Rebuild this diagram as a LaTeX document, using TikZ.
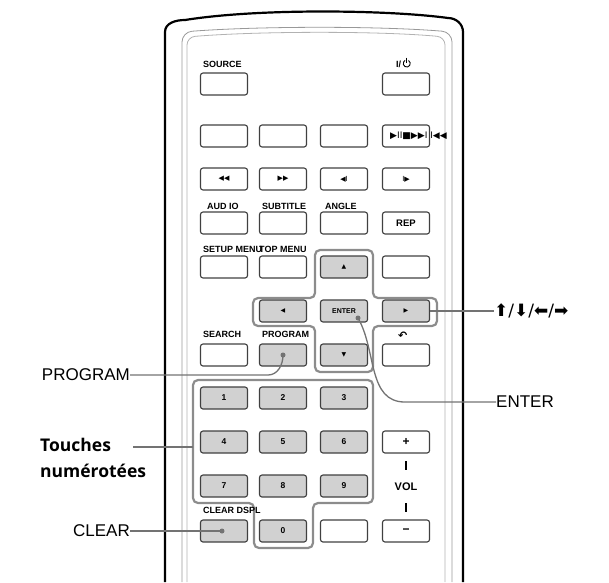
\documentclass[tikz,border=0pt]{standalone}
\usepackage{fontspec}
\setmainfont{Liberation Sans}
\newfontfamily\sym{DejaVu Sans}
\newfontfamily\bfont{Open Sans}
\begin{document}
\begin{tikzpicture}[x=1pt,y=-1pt,
  btn/.style={draw=black!75,line width=1.1pt,rounded corners=2.5pt,minimum width=47pt,minimum height=22pt,inner sep=0pt,font=\bfseries\fontsize{8.5}{9}\selectfont},
  gbtn/.style={btn,fill=black!18},
  lbl/.style={font=\bfseries\fontsize{9}{9}\selectfont,anchor=south west,inner sep=0pt},
  grp/.style={draw=black!45,line width=2.2pt,rounded corners=5pt},
  call/.style={draw=black!55,line width=1.3pt},
  ctext/.style={font=\fontsize{17}{18}\selectfont,inner sep=0pt},
  dot/.style={circle,fill=black!55,inner sep=0pt,minimum size=5pt}]
\useasboundingbox (0,0) rectangle (609,582);
% body
\draw[line width=2.2pt] (165,582) -- (165,32) to[out=90,in=180] (185,20) .. controls (260,8) and (390,10) .. (448,18) to[out=0,in=90] (463,32) -- (463,582);
\draw[black!40,line width=0.8pt,rounded corners=10pt] (182,582) -- (182,32) .. controls (260,26) and (380,26) .. (452,32) -- (452,582);
\draw[black!30,line width=0.8pt,rounded corners=8pt] (187,582) -- (187,37) .. controls (260,31) and (380,31) .. (445,37) -- (445,582);
% groups
\draw[grp] (315,250) -- (373,250) -- (373,298) -- (437,298) -- (437,326) -- (373,326) -- (373,372) -- (315,372) -- (315,326) -- (253,326) -- (253,298) -- (315,298) -- cycle;
\draw[grp] (193,380) -- (373,380) -- (373,503) -- (313,503) -- (313,548) -- (254,548) -- (254,503) -- (193,503) -- cycle;
% row 1
\node[lbl] (lsrc) at (203,68) {SOURCE};
\node[lbl] (lpow) at (396,68) {I/};
\draw[line width=0.9pt] (408.5,60.5) arc[start angle=60,end angle=-240,radius=3.5pt];
\draw[line width=0.9pt] (406.7,57.5) -- (406.7,63);
\node[btn] (bsrc) at (224,84) {};
\node[btn] (bpow) at (406,84) {};
% row 2
\node[btn] (b21) at (224,136) {};
\node[btn] (b22) at (283,136) {};
\node[btn] (b23) at (344,136) {};
\node[btn] (b24) at (406,136) {};
\node[font=\sym\fontsize{9}{9}\selectfont,anchor=west,inner sep=0pt] (play) at (390,136) {▶II■▶▶I I◀◀};
% row 3
\node[btn,font=\sym\fontsize{7}{7}\selectfont] (b31) at (224,179) {◀◀};
\node[btn,font=\sym\fontsize{7}{7}\selectfont] (b32) at (283,179) {▶▶};
\node[btn,font=\sym\fontsize{7}{7}\selectfont] (b33) at (344,179) {◀I};
\node[btn,font=\sym\fontsize{7}{7}\selectfont] (b34) at (406,179) {I▶};
% row 4
\node[lbl] (laud) at (207,210) {AUD IO};
\node[lbl] (lsub) at (262,210) {SUBTITLE};
\node[lbl] (lang) at (325,210) {ANGLE};
\node[btn] (b41) at (224,223) {};
\node[btn] (b42) at (283,223) {};
\node[btn] (b43) at (344,223) {};
\node[btn,font=\bfseries\fontsize{9.5}{9}\selectfont] (b44) at (406,223) {REP};
% row 5
\node[lbl] (lset) at (203,253) {SETUP MENU};
\node[lbl] (ltop) at (259,253) {TOP MENU};
\node[btn] (b51) at (224,267) {};
\node[btn] (b52) at (283,267) {};
\node[gbtn,font=\sym\fontsize{6}{6}\selectfont] (up) at (344,267) {▲};
\node[btn] (b54) at (406,267) {};
% arrows row
\node[gbtn,font=\sym\fontsize{6}{6}\selectfont] (left) at (283,311) {◀};
\node[gbtn,font=\bfseries\fontsize{7}{7}\selectfont] (enter) at (344,311) {ENTER};
\node[gbtn,font=\sym\fontsize{6}{6}\selectfont] (right) at (406,311) {▶};
% search row
\node[lbl] (lsea) at (203,338) {SEARCH};
\node[lbl] (lprg) at (262,338) {PROGRAM};
\node[lbl,font=\sym\bfseries\fontsize{11}{11}\selectfont] (lret) at (398,340) {↶};
\node[btn] (bsea) at (224,355) {};
\node[gbtn] (prog) at (283,355) {};
\node[gbtn,font=\sym\fontsize{6}{6}\selectfont] (down) at (344,355) {▼};
\node[btn] (bret) at (406,355) {};
% numbers
\node[gbtn] (n1) at (224,398) {1};
\node[gbtn] (n2) at (283,398) {2};
\node[gbtn] (n3) at (344,398) {3};
\node[gbtn] (n4) at (224,442) {4};
\node[gbtn] (n5) at (283,442) {5};
\node[gbtn] (n6) at (344,442) {6};
\node[btn,font=\bfseries\fontsize{12}{12}\selectfont] (plus) at (406,442) {+};
\node[gbtn] (n7) at (224,486) {7};
\node[gbtn] (n8) at (283,486) {8};
\node[gbtn] (n9) at (344,486) {9};
\node[font=\bfseries\fontsize{11}{11}\selectfont,inner sep=0pt] (vol) at (406,487) {VOL};
\draw[line width=1.8pt] (406,461) -- (406,470) (406,503) -- (406,512);
\node[lbl] (lclr) at (203,514) {CLEAR DSPL};
\node[gbtn] (clr) at (224,531) {};
\node[gbtn] (n0) at (283,531) {0};
\node[btn] (b83) at (344,531) {};
\node[btn,font=\bfseries\fontsize{12}{12}\selectfont] (minus) at (406,531) {−};
% callouts
\node[ctext,anchor=west,font=\sym\fontsize{17}{18}\selectfont] (tarr) at (494,311) {⬆/⬇/⬅/➡};
\node[ctext,anchor=west] (tent) at (496,402) {ENTER};
\node[ctext,anchor=east] (tprg) at (130,375) {PROGRAM};
\node[ctext,anchor=west,align=left,font=\bfont\bfseries\fontsize{17.5}{26}\selectfont] (ttch) at (40,458) {Touches\\numérotées};
\node[ctext,anchor=east] (tclr) at (130,531) {CLEAR};
\node[dot] (dprg) at (283,355) {};
\node[dot] (dent) at (358,318) {};
\node[dot] (dclr) at (222,531) {};
\coordinate (gl) at (193,447);
\draw[call] (right.east) -- (tarr.west);
\draw[call] (dent.center) to[out=-60,in=180] (405,402) -- (tent.west);
\draw[call] (dprg.center) to[out=-90,in=0] (268,375) -- (tprg.east);
\draw[call] (gl) -- (133,447);
\draw[call] (dclr.center) -- (tclr.east);
\end{tikzpicture}
\end{document}
